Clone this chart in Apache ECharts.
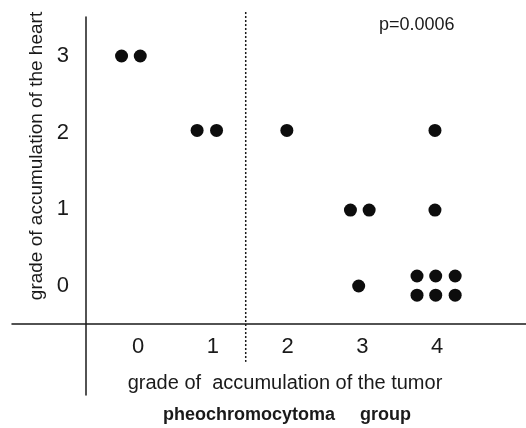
<!DOCTYPE html>
<html>
<head>
<meta charset="utf-8">
<script src="https://cdn.jsdelivr.net/npm/echarts@6/dist/echarts.min.js"></script>
<style>html,body{margin:0;padding:0;background:#fff;}#c{width:526px;height:428px;}</style>
</head>
<body>
<div id="c"></div>
<script>
// Data (jitter of overlapping points kept as seen)
const tumorGrade = [-0.22, 0.03, 0.79, 1.05, 1.99, 2.84, 3.09, 2.95, 3.97, 3.97, 3.73, 3.98, 4.24, 3.73, 3.98, 4.24];
const heartGrade = [3, 3, 2.03, 2.03, 2.03, 0.99, 0.99, 0, 2.03, 0.99, 0.13, 0.13, 0.13, -0.12, -0.12, -0.12];
const xTickValues = [0, 1, 2, 3, 4];
const yTickValues = [0, 1, 2, 3];
const dividerX = [1.44, 1.44];
const dividerY = [3.574, -0.99];
const pValueText = 'p=0.0006';
const titleText = 'pheochromocytoma     group';
const xName = 'grade of  accumulation of the tumor';
const yName = 'grade of accumulation of the heart';

const points = tumorGrade.map((x, i) => [x, heartGrade[i]]);
const dividerPts = dividerX.map((x, i) => [x, dividerY[i]]);
const FONT = '"Liberation Sans", Arial, sans-serif';
const INK = '#1a1a1a';

const chart = echarts.init(document.getElementById('c'), null, {renderer: 'canvas'});
chart.setOption({
  animation: false,
  backgroundColor: '#fff',
  title: [
    {text: titleText, left: 163, top: 406, padding: 0,
     textStyle: {fontFamily: FONT, fontSize: 18, fontWeight: 'bold', color: INK}},
    {text: pValueText, left: 379, top: 16, padding: 0,
     textStyle: {fontFamily: FONT, fontSize: 18, fontWeight: 'normal', color: INK}}
  ],
  grid: {left: 12, right: 0, top: 17, bottom: 33, containLabel: false},
  xAxis: {
    type: 'value', min: -1.6845, max: 5.187,
    position: 'bottom', offset: -71,
    axisLine: {show: true, onZero: false, lineStyle: {color: INK, width: 1.5}},
    axisTick: {show: false},
    splitLine: {show: false},
    axisLabel: {customValues: xTickValues, margin: 12, fontFamily: FONT, fontSize: 22, color: INK,
                formatter: v => String(v)},
    name: xName, nameLocation: 'middle', nameGap: 49,
    nameTextStyle: {fontFamily: FONT, fontSize: 20, color: INK, padding: [0, 0, 0, 32]}
  },
  yAxis: {
    type: 'value', min: -1.422, max: 3.509,
    position: 'left', offset: -74,
    axisLine: {show: true, onZero: false, lineStyle: {color: INK, width: 1.5}},
    axisTick: {show: false},
    splitLine: {show: false},
    axisLabel: {customValues: yTickValues, margin: 17, fontFamily: FONT, fontSize: 22, color: INK,
                padding: [0, 0, 10, 0], formatter: v => String(v)},
    name: yName, nameLocation: 'middle', nameGap: 37,
    nameTextStyle: {fontFamily: FONT, fontSize: 19, color: INK, padding: [0, 0, 0, 100]}
  },
  series: [
    {
      type: 'line',
      data: dividerPts,
      showSymbol: false,
      symbol: 'none',
      clip: false,
      silent: true,
      lineStyle: {type: [2, 2], color: INK, width: 1.5},
      z: 1
    },
    {
      type: 'scatter',
      data: points,
      symbol: 'circle',
      symbolSize: 13,
      clip: false,
      itemStyle: {color: '#0d0d0d', opacity: 1},
      z: 3
    }
  ]
});
</script>
</body>
</html>
